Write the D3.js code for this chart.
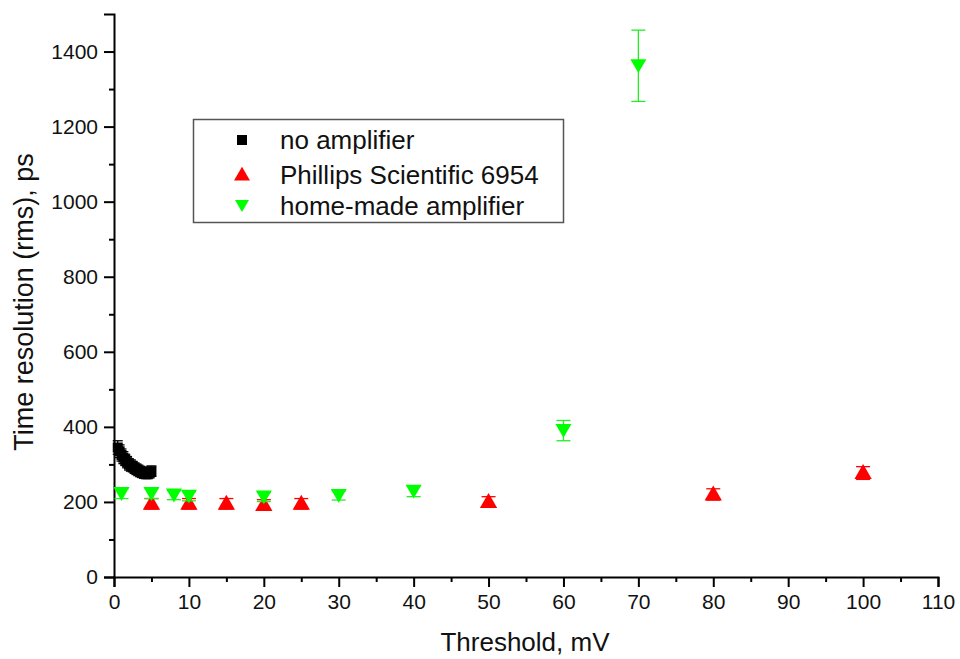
<!DOCTYPE html>
<html><head><meta charset="utf-8">
<script src="https://cdn.jsdelivr.net/npm/d3@7"></script>
<style>body{margin:0;background:#fff}svg{display:block}text{font-family:"Liberation Sans",Arial,sans-serif}</style>
</head><body>
<svg id="c" width="960" height="659"></svg>
<script>
const noAmpX = [0.5,0.75,1,1.25,1.5,1.75,2,2.25,2.5,2.75,3,3.25,3.5,3.75,4,4.25,4.5,4.75,5];
const noAmpY = [345,335,325,318,312,306,300,297,294,290,287,284,281,279,277,276,276,278,282];
const noAmpE = [18,17,16,16,15,15,15,15,14,14,14,14,14,14,14,14,14,14,14];
const phX = [5,10,15,20,25,50,80,100];
const phY = [195,195,195,192,195,200,220,277];
const phE = [14,14,14,14,14,14,15,17];
const hmX = [1,5,8,10,20,30,40,60,70];
const hmY = [222,222,218,215,213,217,228,390,1362];
const hmE = [13,13,12,12,12,12,14,27,95];
const xTicks = [0,10,20,30,40,50,60,70,80,90,100,110];
const yTicks = [0,200,400,600,800,1000,1200,1400];
const legendLabels = ["no amplifier","Phillips Scientific 6954","home-made amplifier"];

const svg = d3.select("#c");
const m = {l:114, r:938, t:14, b:577};
const x = d3.scaleLinear().domain([0,110]).range([m.l,m.r]);
const y = d3.scaleLinear().domain([0,1500]).range([m.b,m.t]);

const xAx = svg.append("g").attr("transform",`translate(0,${m.b})`)
  .call(d3.axisBottom(x).tickValues(xTicks).tickSize(10).tickPadding(7).tickFormat(d3.format("d")));
const xMinor = svg.append("g").attr("transform",`translate(0,${m.b})`)
  .call(d3.axisBottom(x).tickValues(d3.range(5,110,10)).tickSize(5).tickFormat(""));
const yAx = svg.append("g").attr("transform",`translate(${m.l},0)`)
  .call(d3.axisLeft(y).tickValues(yTicks).tickSize(10).tickPadding(6).tickFormat(d3.format("d")));
const yMinor = svg.append("g").attr("transform",`translate(${m.l},0)`)
  .call(d3.axisLeft(y).tickValues(d3.range(100,1500,200)).tickSize(5).tickFormat(""));
[xAx,xMinor,yAx,yMinor].forEach(g=>{
  g.select(".domain").attr("stroke","#000").attr("stroke-width",2);
  g.selectAll(".tick line").attr("stroke","#000").attr("stroke-width",2);
  g.selectAll(".tick text").attr("font-size",21).attr("fill","#111").attr("font-family",'"Liberation Sans",Arial,sans-serif');
});
xMinor.select(".domain").remove(); yMinor.select(".domain").remove();

svg.append("text").attr("x",525).attr("y",651).attr("text-anchor","middle")
  .attr("font-size",26).attr("fill","#111").text("Threshold, mV");
svg.append("text").attr("transform","translate(33,302) rotate(-90)").attr("text-anchor","middle")
  .attr("font-size",27).attr("fill","#111").text("Time resolution (rms), ps");

function errBars(X,Y,E,color,cap){
  const g = svg.append("g").attr("stroke",color).attr("stroke-width",1.3);
  X.forEach((xv,i)=>{
    const px=x(xv), t=y(Y[i]+E[i]), b=y(Y[i]-E[i]);
    g.append("line").attr("x1",px).attr("x2",px).attr("y1",t).attr("y2",b);
    g.append("line").attr("x1",px-cap).attr("x2",px+cap).attr("y1",t).attr("y2",t);
    g.append("line").attr("x1",px-cap).attr("x2",px+cap).attr("y1",b).attr("y2",b);
  });
}
const triUp = d3.symbol().type(d3.symbolTriangle).size(130);
function triDownPath(s){ return `M${-s},${-s*0.58}L${s},${-s*0.58}L0,${s*1.15}Z`; }

errBars(noAmpX,noAmpY,noAmpE,"#000",5);
svg.append("g").selectAll("rect").data(noAmpX).join("rect")
  .attr("x",(d)=>x(d)-5).attr("y",(d,i)=>y(noAmpY[i])-5).attr("width",10).attr("height",10).attr("fill","#000");

errBars(phX,phY,phE,"#ff0000",7);
svg.append("g").selectAll("path").data(phX).join("path")
  .attr("d",triUp).attr("transform",(d,i)=>`translate(${x(d)},${y(phY[i])+1})`).attr("fill","#ff0000");

errBars(hmX,hmY,hmE,"#22ee22",7);
svg.append("g").selectAll("path").data(hmX).join("path")
  .attr("d",triDownPath(8)).attr("transform",(d,i)=>`translate(${x(d)},${y(hmY[i])-2})`).attr("fill","#00ff00");

const lg = svg.append("g");
lg.append("rect").attr("x",193.5).attr("y",119.5).attr("width",370).attr("height",103)
  .attr("fill","#fff").attr("stroke","#555").attr("stroke-width",1.5);
const rowsY=[140,175,206];
lg.append("rect").attr("x",237).attr("y",rowsY[0]-5).attr("width",10).attr("height",10).attr("fill","#000");
lg.append("path").attr("d",d3.symbol().type(d3.symbolTriangle).size(110)).attr("transform",`translate(242,${rowsY[1]+1})`).attr("fill","#ff0000");
lg.append("path").attr("d",triDownPath(7)).attr("transform",`translate(242,${rowsY[2]-2})`).attr("fill","#00ff00");
legendLabels.forEach((t,i)=>{
  lg.append("text").attr("x",280).attr("y",rowsY[i]).attr("dy","0.36em").attr("font-size",26).attr("fill","#111").text(t);
});
</script>
</body></html>
